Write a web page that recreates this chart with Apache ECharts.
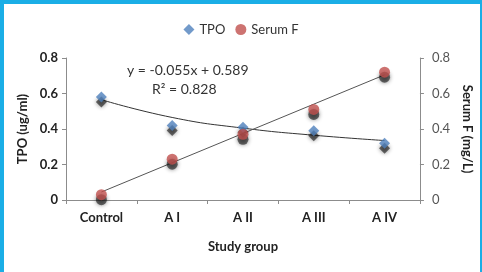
<!DOCTYPE html>
<html>
<head>
<meta charset="utf-8">
<script src="https://cdn.jsdelivr.net/npm/echarts@6/dist/echarts.min.js"></script>
<style>
  html, body { margin: 0; padding: 0; background: #fff; }
  #chart { width: 482px; height: 272px; }
</style>
</head>
<body>
<div id="chart"></div>
<script>
const groups = ['Control', 'A I', 'A II', 'A III', 'A IV'];
const tpo = [0.58, 0.42, 0.41, 0.39, 0.32];
const serumF = [0.03, 0.23, 0.37, 0.51, 0.72];
// trendlines as drawn in the picture
const tpoTrend = [0.565, 0.465, 0.405, 0.365, 0.335];
const serumTrend = [0.045, 0.21, 0.375, 0.54, 0.705];

const fontFamily = 'Lato, sans-serif';
const dark = '#222';
const axisGray = '#8c8c8c';
const blue = '#4f81bd';
const red = '#c0504d';

const chart = echarts.init(document.getElementById('chart'), null, { renderer: 'canvas' });

const yAxisBase = {
    type: 'value',
    min: 0,
    max: 0.8,
    interval: 0.2,
    nameLocation: 'middle',
    axisLine: { show: true, lineStyle: { color: axisGray } },
    axisTick: { show: true, length: 4, lineStyle: { color: axisGray } },
    splitLine: { show: false },
};

// soft dark blob under each marker, like the Excel marker shadow
const shadowSeries = (data, symbol, yAxisIndex) => ({
    type: 'scatter',
    yAxisIndex,
    data,
    symbol,
    symbolSize: 11,
    symbolOffset: [0, 5],
    silent: true,
    itemStyle: { color: 'rgba(20,20,20,0.75)', shadowColor: 'rgba(0,0,0,0.8)', shadowBlur: 4 },
    z: 2,
});

chart.setOption({
    animation: false,
    textStyle: { fontFamily },
    graphic: [
        { type: 'rect', shape: { x: 0, y: 0, width: 482, height: 4 }, style: { fill: '#1aaee6' } },
        { type: 'rect', shape: { x: 0, y: 0, width: 4, height: 272 }, style: { fill: '#1aaee6' } },
        { type: 'rect', shape: { x: 480, y: 0, width: 2, height: 272 }, style: { fill: '#1aaee6' } },
        {
            type: 'text', left: 127, top: 63,
            style: { text: 'y = -0.055x + 0.589', fill: '#333', font: '14px ' + fontFamily },
        },
        {
            type: 'text', left: 152, top: 82,
            style: { text: 'R² = 0.828', fill: '#333', font: '14px ' + fontFamily },
        },
    ],
    legend: {
        top: 18,
        left: 'center',
        itemWidth: 11,
        itemHeight: 11,
        itemGap: 10,
        textStyle: { color: '#333', fontSize: 13, fontFamily },
        data: [
            { name: 'TPO', icon: 'diamond', itemStyle: { color: blue } },
            { name: 'Serum F', icon: 'circle', itemStyle: { color: red } },
        ],
    },
    grid: { left: 66, right: 62, top: 58, bottom: 72 },
    xAxis: {
        type: 'category',
        data: groups,
        boundaryGap: true,
        name: 'Study group',
        nameLocation: 'middle',
        nameGap: 40,
        nameTextStyle: { color: dark, fontSize: 13, fontWeight: 'bold', fontFamily },
        axisLine: { lineStyle: { color: axisGray } },
        axisTick: { show: true, length: 4, lineStyle: { color: axisGray } },
        axisLabel: { color: dark, fontSize: 13, fontWeight: 'bold', margin: 11 },
    },
    yAxis: [
        {
            ...yAxisBase,
            position: 'left',
            name: 'TPO (ug/ml)',
            nameGap: 37,
            nameTextStyle: { color: dark, fontSize: 13, fontWeight: 'bold', fontFamily },
            axisLabel: { color: dark, fontSize: 13, fontWeight: 'bold', margin: 8 },
        },
        {
            ...yAxisBase,
            position: 'right',
            name: 'Serum F (mg/L)',
            nameGap: 35,
            nameRotate: -90,
            nameTextStyle: { color: dark, fontSize: 13, fontWeight: 'bold', fontFamily },
            axisLabel: { color: '#555', fontSize: 13, margin: 12, formatter: (v) => String(v) },
        },
    ],
    series: [
        {
            name: 'TPO trend',
            type: 'line',
            data: tpoTrend,
            smooth: 0.5,
            showSymbol: false,
            lineStyle: { color: '#333', width: 1 },
            silent: true,
            z: 1,
        },
        {
            name: 'Serum F trend',
            type: 'line',
            yAxisIndex: 1,
            data: serumTrend,
            showSymbol: false,
            lineStyle: { color: '#555', width: 1 },
            silent: true,
            z: 1,
        },
        shadowSeries(tpo, 'diamond', 0),
        shadowSeries(serumF, 'circle', 1),
        {
            name: 'TPO',
            type: 'scatter',
            data: tpo,
            symbol: 'diamond',
            symbolSize: 11,
            itemStyle: { color: blue },
            z: 3,
        },
        {
            name: 'Serum F',
            type: 'scatter',
            yAxisIndex: 1,
            data: serumF,
            symbol: 'circle',
            symbolSize: 11,
            itemStyle: { color: red },
            z: 3,
        },
    ],
});
</script>
</body>
</html>
